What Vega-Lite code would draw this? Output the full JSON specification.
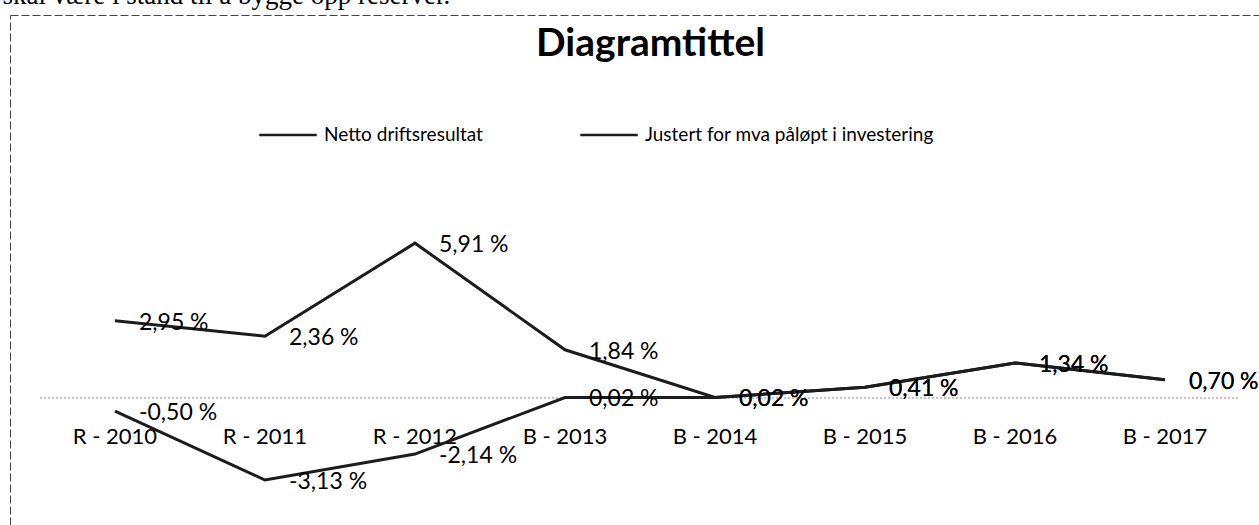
{
  "$schema": "https://vega.github.io/schema/vega-lite/v6.json",
  "width": 1249,
  "height": 510,
  "autosize": {"type": "none"},
  "padding": {"left": 10, "top": 15, "right": 0, "bottom": 0},
  "background": "white",
  "config": {
    "view": {"stroke": null},
    "font": "Lato",
    "locale": {
      "number": {"decimal": ",", "thousands": " ", "grouping": [3], "currency": ["", ""], "percent": " %", "minus": "-"}
    }
  },
  "data": {
    "values": [
      {"aar": "R - 2010", "serie": "Netto driftsresultat", "verdi": 0.0295},
      {"aar": "R - 2011", "serie": "Netto driftsresultat", "verdi": 0.0236},
      {"aar": "R - 2012", "serie": "Netto driftsresultat", "verdi": 0.0591},
      {"aar": "B - 2013", "serie": "Netto driftsresultat", "verdi": 0.0184},
      {"aar": "B - 2014", "serie": "Netto driftsresultat", "verdi": 0.0002},
      {"aar": "B - 2015", "serie": "Netto driftsresultat", "verdi": 0.0041},
      {"aar": "B - 2016", "serie": "Netto driftsresultat", "verdi": 0.0134},
      {"aar": "B - 2017", "serie": "Netto driftsresultat", "verdi": 0.0070},
      {"aar": "R - 2010", "serie": "Justert for mva påløpt i investering", "verdi": -0.0050},
      {"aar": "R - 2011", "serie": "Justert for mva påløpt i investering", "verdi": -0.0313},
      {"aar": "R - 2012", "serie": "Justert for mva påløpt i investering", "verdi": -0.0214},
      {"aar": "B - 2013", "serie": "Justert for mva påløpt i investering", "verdi": 0.0002},
      {"aar": "B - 2014", "serie": "Justert for mva påløpt i investering", "verdi": 0.0002},
      {"aar": "B - 2015", "serie": "Justert for mva påløpt i investering", "verdi": 0.0041},
      {"aar": "B - 2016", "serie": "Justert for mva påløpt i investering", "verdi": 0.0134},
      {"aar": "B - 2017", "serie": "Justert for mva påløpt i investering", "verdi": 0.0070}
    ]
  },
  "resolve": {"axis": {"x": "independent"}},
  "layer": [
    {
      "data": {"values": [{}]},
      "mark": {"type": "rule", "stroke": "#8a8a8a", "strokeDash": [2, 2], "strokeWidth": 1},
      "encoding": {
        "x": {
          "datum": "R - 2010", "type": "nominal", "bandPosition": 0,
          "axis": {"orient": "top", "domain": true, "domainColor": "#444", "domainDash": [8, 3], "domainWidth": 1, "labels": false, "ticks": false, "grid": false,
            "title": "skal være i stand til å bygge opp reserver.", "titleAngle": 0, "titleAlign": "left", "titleBaseline": "alphabetic", "titleX": -8, "titleY": -12,
            "titleFont": "Liberation Serif", "titleFontSize": 27, "titleFontWeight": "normal", "titleColor": "black"}
        },
        "x2": {"datum": "B - 2017", "bandPosition": 1},
        "y": {"datum": 0, "type": "quantitative"}
      }
    },
    {
      "mark": {"type": "line", "strokeWidth": 3, "strokeJoin": "miter"},
      "encoding": {
        "x": {
          "field": "aar", "type": "nominal", "sort": null,
          "scale": {"type": "band", "domain": ["R - 2010", "R - 2011", "R - 2012", "B - 2013", "B - 2014", "B - 2015", "B - 2016", "B - 2017"], "paddingInner": 0, "paddingOuter": 0.1633, "align": 0.612},
          "axis": {"orient": "bottom", "offset": -127, "domain": false, "ticks": false, "tickSize": 0, "grid": false, "labelAngle": 0, "labelPadding": 28, "labelFont": "Lato", "labelFontSize": 22, "labelColor": "black", "title": null}
        },
        "y": {
          "field": "verdi", "type": "quantitative",
          "scale": {"domain": [-0.04847, 0.14618], "nice": false, "zero": false},
          "axis": {"orient": "left", "domain": true, "domainColor": "#444", "domainDash": [8, 3], "domainWidth": 1, "labels": false, "ticks": false, "grid": false,
            "title": "Diagramtittel", "titleAngle": 0, "titleAlign": "center", "titleBaseline": "alphabetic", "titleX": 640, "titleY": 40,
            "titleFont": "Lato", "titleFontSize": 39, "titleFontWeight": "bold", "titleColor": "black"}
        },
        "color": {
          "field": "serie", "type": "nominal",
          "sort": ["Netto driftsresultat", "Justert for mva påløpt i investering"],
          "scale": {"range": ["#1c1c1c", "#1c1c1c"]},
          "legend": {"orient": "none", "legendX": 248, "legendY": 90, "direction": "horizontal", "title": null,
            "symbolType": "stroke", "symbolSize": 3300, "symbolStrokeWidth": 2.5, "labelFont": "Lato", "labelFontSize": 19, "labelColor": "black", "labelOffset": 6, "labelLimit": 500, "columnPadding": 92}
        }
      }
    },
    {
      "mark": {"type": "text", "align": "left", "baseline": "middle", "dx": 24, "dy": 2, "font": "Lato", "fontSize": 23, "color": "black"},
      "encoding": {
        "x": {"field": "aar", "type": "nominal", "sort": null, "axis": null},
        "y": {"field": "verdi", "type": "quantitative"},
        "text": {"field": "verdi", "type": "quantitative", "format": ".2%"}
      }
    }
  ]
}
